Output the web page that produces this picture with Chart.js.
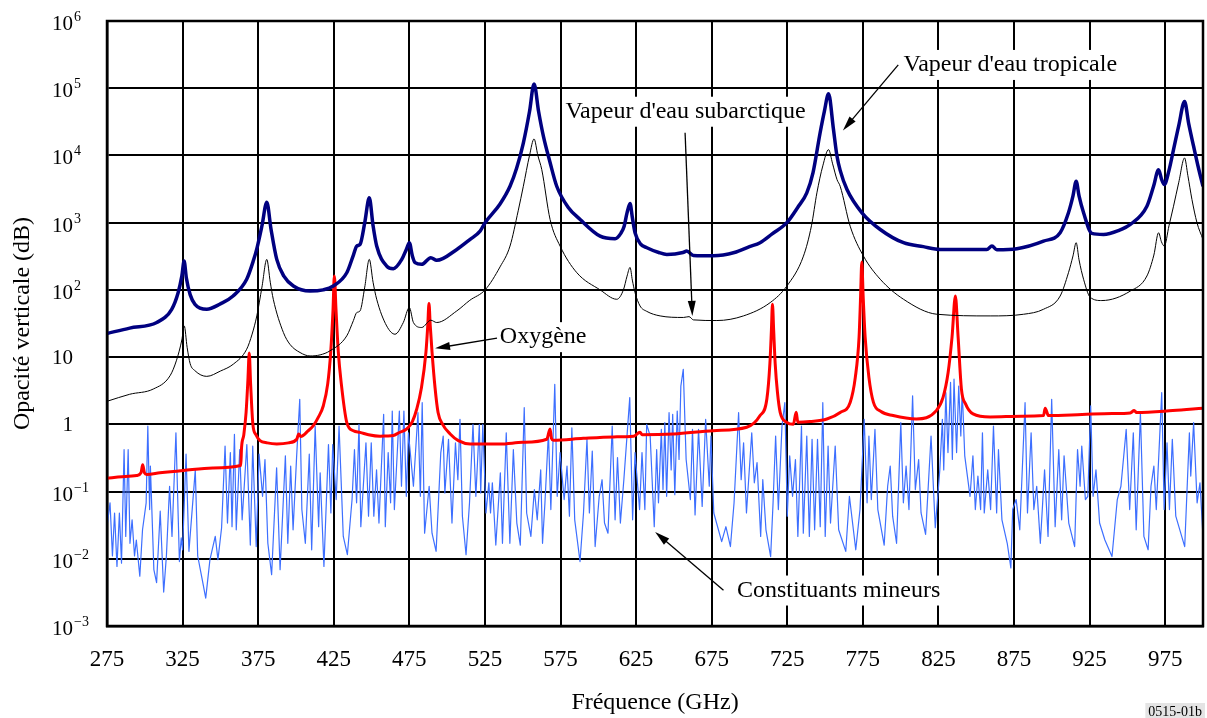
<!DOCTYPE html>
<html>
<head>
<meta charset="utf-8">
<script src="https://cdn.jsdelivr.net/npm/chart.js@4.4.0/dist/chart.umd.min.js"></script>
<style>
  html, body { margin: 0; padding: 0; background: #fff; }
  #wrap { width: 1207px; height: 718px; }
</style>
</head>
<body>
<div id="wrap"><canvas id="opacity" width="1207" height="718"></canvas></div>
<script>
// Axis ticks
const xTicks = [275, 325, 375, 425, 475, 525, 575, 625, 675, 725, 775, 825, 875, 925, 975];
const yTickValues = [1e6, 1e5, 1e4, 1e3, 1e2, 10, 1, 0.1, 0.01, 0.001];
const yTickLabels = [['10', '6'], ['10', '5'], ['10', '4'], ['10', '3'], ['10', '2'],
  ['10', ''], ['1', ''], ['10', '−1'], ['10', '−2'], ['10', '−3']];

// Series: [frequency GHz, vertical opacity dB]
const tropical = [
  [275, 22.5], [290, 27], [307.9, 32.7], [317.8, 51.5], [322, 90], [324.5, 160], [326, 268],
  [327.5, 150], [330, 85], [333.2, 61], [341, 51.5], [350, 62], [358.4, 81], [367.4, 144],
  [372, 280], [374, 400], [377.5, 900], [380.7, 2014], [383.5, 800], [387.3, 284], [392, 160],
  [398.3, 114], [409.3, 96], [418, 100], [424.7, 114], [433.6, 180], [438, 330], [440.2, 449],
  [442.4, 475], [445.5, 1000], [448.5, 2339], [451, 900], [453.4, 449], [460, 226], [464.4, 207],
  [470, 284], [473, 400], [475, 503], [477, 320], [478.8, 254], [483.2, 240], [489.2, 301],
  [493.1, 275], [506.4, 400], [515, 560], [521.8, 748], [525.1, 1000], [535, 1900], [541.6, 3480],
  [546, 6500], [550.4, 15300], [554.5, 45000], [557.5, 116000], [560.5, 45000], [563.7, 19200],
  [568, 8000], [572.5, 3480], [580, 1700], [588, 1115], [601.2, 630], [611.1, 577], [615, 700],
  [617.1, 887], [619, 1400], [621, 1928], [622.5, 1200], [624.3, 708], [628, 480], [632.1, 424],
  [640, 360], [645.3, 337], [656, 360], [658.5, 378], [662.9, 326], [676.2, 322], [690, 360],
  [700, 440], [707, 503], [715, 680], [724.7, 1000], [732, 1700], [737.9, 2776], [742, 5500],
  [746.7, 21600], [749.5, 45000], [752.3, 82600], [755.5, 25000], [757.9, 9700], [760, 6000],
  [764.5, 3110], [774.4, 1402], [786.5, 792], [801.9, 503], [815, 440], [826.2, 400], [857, 400],
  [860.4, 449], [863.6, 396], [876.9, 410], [894.5, 532], [905.5, 708], [911, 1402], [914, 2500],
  [916.1, 4130], [918, 2500], [921, 1402], [926.5, 692], [934.2, 668], [944, 760], [951.9, 940],
  [962.9, 1757], [967.3, 3480], [970.6, 6150], [972.5, 4500], [974.4, 3690], [977.5, 6000],
  [980.5, 12200], [984, 28000], [987.8, 63500], [990.5, 30000], [993.8, 13600], [997, 6500],
  [1000, 3480]
];

const subarctic = [
  [275, 2.2], [290, 2.8], [305.6, 3.35], [316.7, 5.28], [321, 9], [324.5, 18], [326.1, 29.1],
  [328, 14], [330, 8], [333.2, 6.27], [341, 5.17], [350, 6.2], [358.6, 7.87], [367.4, 13.1],
  [371, 22], [374.1, 41], [377.5, 110], [380.7, 284], [383, 130], [385, 72.5], [391.7, 23.2],
  [396, 15.5], [402.7, 11.7], [409.3, 10.4], [416, 10.8], [422.5, 12.4], [433.6, 20.7], [438, 35],
  [440.2, 46], [442.4, 48.7], [445.5, 110], [448.5, 284], [451, 130], [453.4, 72.5], [460, 29.1],
  [465.5, 21.9], [471, 32.7], [475, 54.6], [477.7, 32.7], [483.2, 27.6], [489.2, 35.4],
  [493.1, 32.7], [506.4, 48.7], [515, 70], [525.1, 100], [535, 220], [541.6, 449], [547, 1500],
  [550.4, 3480], [554.5, 10000], [557.5, 17600], [560, 10000], [562.6, 6150], [568.1, 1115],
  [574.7, 449], [585.8, 180], [601.2, 100], [612.2, 72.5], [616.6, 100], [619, 160], [621, 216],
  [622.5, 140], [624.3, 91], [627.6, 57.7], [632, 48], [640.9, 41], [656.3, 38.9], [660, 40],
  [662.9, 35.8], [678.4, 35], [696, 41], [713.7, 64.7], [724.7, 114], [735.7, 318], [741, 900],
  [744.6, 2776], [748.5, 7000], [752.3, 12200], [755, 7500], [757.9, 4375], [760, 3480],
  [766.6, 887], [775.4, 318], [786.5, 144], [801.9, 72.5], [824, 43.4], [859.2, 41],
  [881.3, 43.4], [894.5, 51.5], [905.5, 81], [911, 180], [914, 320], [916.1, 503], [918, 280],
  [921, 144], [925.4, 77.6], [933.1, 69.4], [951.9, 96], [962.9, 161], [967.5, 330], [970.6, 708],
  [972.5, 520], [974.4, 449], [977.5, 900], [980.5, 1757], [984, 4000], [987.8, 9180], [990, 5000],
  [992.7, 2208], [996, 1000], [1000, 563]
];

const oxygen = [
  [275, 0.158], [285, 0.166], [294.6, 0.173], [297.5, 0.19], [298.6, 0.25], [299.8, 0.19],
  [301.3, 0.18], [310, 0.19], [325.5, 0.206], [345, 0.225], [363.5, 0.244], [364, 0.45],
  [365.5, 0.7], [367, 1.5], [368.2, 4.5], [369.1, 11.5], [370, 4], [371.5, 1], [373.5, 0.7],
  [376.2, 0.573], [381, 0.53], [387.3, 0.512], [395, 0.53], [400.5, 0.6], [401.8, 0.72],
  [403.2, 0.66], [408, 0.8], [411.5, 0.957], [415, 1.3], [418.1, 1.89], [421, 4], [423, 12],
  [424.5, 50], [425.4, 161], [426.5, 50], [428, 12], [430, 4], [433.6, 1.07], [438, 0.8],
  [442.4, 0.76], [448, 0.7], [455.6, 0.665], [460, 0.67], [464.4, 0.68], [468, 0.75],
  [473.3, 0.855], [477, 1.1], [479.9, 1.69], [483, 3.5], [486, 12], [487.2, 30], [488, 62.6],
  [488.8, 30], [490, 12], [492, 3.5], [494, 1.5], [497, 1], [502, 0.72], [507.4, 0.573],
  [515.2, 0.512], [535, 0.51], [550, 0.54], [565.9, 0.6], [568.1, 0.855], [569, 0.62],
  [570.3, 0.58], [590, 0.62], [610, 0.65], [623.2, 0.665], [627.6, 0.76], [629, 0.7], [650, 0.72],
  [676.1, 0.805], [698.2, 0.904], [707, 1.35], [711.5, 2.38], [713.5, 8], [714.5, 25],
  [715.2, 61], [716, 25], [717, 8], [718.5, 3], [720.3, 1.51], [724.7, 1.07], [729, 1],
  [730.9, 1.51], [732, 1.07], [740, 1.1], [751.2, 1.2], [760, 1.5], [766.6, 2.12], [770, 5],
  [772.5, 20], [773.5, 80], [774.3, 259], [775.2, 80], [776.5, 20], [779, 5], [782, 2.12],
  [787, 1.55], [795, 1.35], [810.4, 1.2], [823.6, 1.6], [828, 2.5], [831.4, 5.9], [834, 20],
  [836.2, 81], [838, 20], [840.2, 3.35], [843, 2], [847.9, 1.43], [859.2, 1.29], [880, 1.32],
  [894.5, 1.35], [895.6, 1.73], [897.8, 1.35], [920, 1.4], [940, 1.45], [951.9, 1.48],
  [954.5, 1.6], [956, 1.5], [980, 1.6], [1000, 1.73]
];

const minor = [
  [275, 0.03], [277, 0.068], [278.6, 0.011], [280, 0.048], [281.6, 0.0077], [283.2, 0.048],
  [284.6, 0.0086], [286.3, 0.42], [287.4, 0.0215], [289, 0.42], [290.2, 0.017], [291.6, 0.038],
  [293.2, 0.011], [294.4, 0.019], [296.7, 0.0055], [298.5, 0.027], [300.9, 0.068], [302, 0.94],
  [303.2, 0.054], [303.7, 0.24], [306, 0.0069], [307.8, 0.0044], [310.2, 0.051], [312.5, 0.0032],
  [314.3, 0.011], [316.4, 0.12], [318, 0.0215], [320.6, 0.75], [322.9, 0.0091], [324.1, 0.0204],
  [325, 0.0136], [327.3, 0.36], [329.2, 0.0129], [333.4, 0.21], [335, 0.011], [338, 0.0049],
  [340.3, 0.0026], [343.1, 0.0097], [346.6, 0.0215], [348.4, 0.0097], [350.8, 0.029],
  [353.1, 0.475], [354.7, 0.034], [356.6, 0.38], [357.7, 0.03], [359.3, 0.71], [360.5, 0.027],
  [362.8, 0.42], [364.4, 0.038], [367.5, 0.5], [369.8, 0.016], [371.4, 0.475], [373.7, 0.0152],
  [375.6, 0.36], [377.9, 0.085], [379.5, 0.3], [381.4, 0.017], [383.9, 0.0058], [387.2, 0.225],
  [389.5, 0.0069], [393, 0.34], [394.6, 0.017], [396.5, 0.24], [398.1, 0.027], [400.4, 0.32],
  [402.5, 2.36], [403.9, 0.054], [406.2, 0.017], [408.8, 0.36], [410.4, 0.0136], [412.7, 0.94],
  [415, 0.03], [416, 0.19], [418.5, 0.0077], [421.5, 0.5], [423.1, 0.048], [424.3, 0.5],
  [426.6, 0.076], [428.5, 0.94], [431.3, 0.0215], [434, 0.0115], [437.1, 0.076], [438.7, 0.42],
  [440.1, 0.068], [441.7, 1.0], [442.9, 0.03], [446.3, 0.53], [448, 0.043], [449.8, 0.53],
  [451.5, 0.043], [453.3, 0.21], [454.9, 0.034], [458, 1.41], [459.1, 0.03], [461, 0.38],
  [462.6, 0.068], [463.7, 1.58], [465.1, 0.054], [468.4, 1.58], [469.8, 0.12], [471.4, 1.58],
  [473, 0.085], [474.4, 0.75], [477.7, 0.12], [480.7, 1.49], [482.3, 0.085], [483.5, 2.1],
  [485.1, 0.024], [488.1, 0.12], [490, 0.024], [492.7, 0.0129], [495.8, 0.38], [497.4, 0.67],
  [498.5, 0.095], [500.9, 0.6], [503.2, 0.034], [505.5, 0.53], [507.1, 0.15], [508.5, 1.19],
  [510.1, 0.043], [512.5, 0.0115], [514.8, 0.068], [517.1, 1.0], [519, 0.085], [521.3, 1.0],
  [522.2, 0.095], [523.6, 1.0], [525.7, 0.048], [527.6, 0.135], [528.7, 0.048], [529.9, 0.135],
  [532.2, 0.016], [535.2, 0.19], [536.6, 0.017], [539.1, 0.75], [541.5, 0.017], [543.8, 0.42],
  [546.1, 0.034], [548.4, 0.016], [551, 1.77], [552.6, 0.048], [555.4, 0.0215], [557.7, 0.107],
  [559.6, 0.038], [561.9, 0.21], [563.1, 0.017], [564.7, 0.068], [567, 0.75], [568.6, 0.054],
  [571.2, 3.95], [572.8, 0.085], [574.7, 0.38], [577.4, 0.076], [579.3, 0.24], [580.9, 0.043],
  [582.5, 0.89], [584.4, 0.038], [587.9, 0.0091], [590.2, 0.048], [592.5, 0.6], [594.1, 0.048],
  [596, 0.4], [597.9, 0.0152], [600.6, 0.085], [602.5, 0.15], [604.1, 0.034], [606.4, 0.024],
  [609.2, 0.94], [611.1, 0.038], [612.7, 0.32], [614.6, 0.034], [616.9, 0.15], [620.8, 2.5],
  [622.7, 0.038], [624.3, 0.38], [627.3, 0.054], [628.9, 0.38], [630.8, 0.054], [632, 1.0],
  [634.3, 0.67], [637, 0.03], [638.6, 0.42], [639.8, 0.068], [641.7, 0.84], [642.8, 0.107],
  [644, 1.06], [645.2, 0.085], [646.8, 1.49], [648.2, 0.21], [649.2, 1.41], [650.6, 0.09],
  [652.2, 1.58], [653.4, 0.3], [654.6, 3.7], [656.2, 6.6], [658.1, 0.3], [660.9, 0.076],
  [662.3, 0.84], [664, 0.045], [666.3, 0.84], [668.7, 0.06], [671, 1.19], [673.4, 0.12],
  [674.5, 0.67], [676.4, 0.048], [681.6, 0.018], [684.4, 0.03], [687.4, 0.0152], [689.8, 0.068],
  [692.8, 1.49], [694.5, 0.15], [696.1, 0.53], [698, 0.048], [701.5, 0.75], [703.2, 0.135],
  [705, 0.27], [707.4, 0.0215], [708.8, 0.15], [710.9, 0.027], [714, 0.0108], [715.6, 0.068],
  [717.3, 0.67], [719.1, 0.054], [721.5, 0.94], [723.4, 2.1], [725, 0.043], [726.6, 0.34],
  [728.5, 0.085], [730.4, 0.3], [732, 0.0215], [734.4, 0.94], [735.6, 0.024], [737.9, 0.67],
  [739.6, 0.0215], [741.4, 0.6], [743.1, 0.027], [745, 0.6], [746.8, 0.03], [748.5, 2.1],
  [750.1, 0.0215], [752, 0.475], [753.6, 0.034], [756.7, 0.475], [759, 0.027], [763.7, 0.0129],
  [766.1, 0.085], [770.3, 0.0136], [773.1, 0.054], [775.9, 1.19], [777.8, 0.068], [779, 0.67],
  [780.6, 0.076], [783, 0.84], [784.9, 0.054], [789.1, 0.016], [791.4, 0.12], [793.1, 0.24],
  [794.7, 0.043], [797.3, 0.017], [800.1, 1.06], [801.8, 0.068], [803.6, 0.24], [805.5, 0.054],
  [807.9, 2.65], [809.7, 0.107], [811.9, 0.3], [813.5, 0.048], [816.5, 0.023], [820.1, 0.67],
  [822.9, 0.029], [825.9, 0.21], [827.6, 1.19], [828.5, 0.21], [829.9, 2.96], [831.3, 0.38],
  [833, 4.2], [834.2, 0.3], [835.3, 4.7], [837, 0.38], [838.4, 3.7], [839.8, 0.67], [840.7, 3.3],
  [842.4, 0.34], [845.9, 0.085], [847.8, 0.34], [849.4, 0.054], [851.1, 0.17], [852.9, 0.054],
  [854.1, 0.75], [855.3, 0.048], [857.6, 0.21], [859.5, 0.054], [861.4, 0.94], [863.5, 0.048],
  [864.7, 0.42], [867, 0.038], [870.5, 0.017], [872.9, 0.0073], [874.1, 0.054], [876.4, 0.076],
  [878.8, 0.027], [882.3, 2.1], [883.9, 0.048], [886.3, 0.75], [888.1, 0.054], [890, 0.12],
  [892.4, 0.017], [895.2, 0.21], [897.5, 0.0215], [899.9, 2.36], [902.2, 0.03], [904.6, 0.42],
  [906.5, 0.038], [908.1, 0.34], [911.2, 0.034], [915.1, 0.0152], [917, 0.42], [918.7, 0.12],
  [919.8, 0.475], [922.2, 0.076], [923.8, 0.085], [925.7, 1.88], [927.3, 0.085], [929.2, 0.21],
  [931.6, 0.034], [935.1, 0.019], [939.8, 0.0108], [943.3, 0.076], [945.7, 0.12], [949.2, 0.84],
  [951.5, 0.054], [953.9, 0.75], [955.8, 0.027], [958.6, 1.49], [960.9, 0.0215], [963.7, 0.0136],
  [965.6, 0.12], [967.5, 0.24], [969.1, 0.054], [972.7, 2.96], [974.3, 0.054], [976.2, 0.53],
  [977.8, 0.054], [979.7, 0.6], [982, 0.043], [987.9, 0.0152], [991, 0.75], [991.9, 0.17],
  [993.8, 1.06], [996.1, 0.068], [998, 0.135], [1000, 0.0215]
];

// Curve labels: text centre, arrow tail and arrow tip, in data coordinates
const notes = [
  { text: "Vapeur d'eau tropicale", at: [872.5, 222000], tail: [798.4, 222000], tip: [761.8, 23500] },
  { text: "Vapeur d'eau subarctique", at: [657.7, 44700], tail: [657.4, 21800], tip: [662.2, 41] },
  { text: 'Oxygène', at: [563.5, 19.8], tail: [533, 19.1], tip: [492, 13.5] },
  { text: 'Constituants mineurs', at: [759, 0.00337], tail: [682.8, 0.00341], tip: [637.6, 0.0251] }
];

const serif = '"Liberation Serif", "Times New Roman", serif';

// Turn [f, v] pairs into chart points
function toPoints(pairs) {
  return pairs.map(p => ({ x: p[0], y: p[1] }));
}

// Frame, superscript tick labels, annotations
const decorations = {
  id: 'decorations',
  afterDraw(chart) {
    const { ctx, chartArea: area, scales: { x, y } } = chart;
    ctx.save();

    // top and right edges of the plot box
    ctx.strokeStyle = '#000';
    ctx.lineWidth = 2.5;
    ctx.strokeRect(area.left, area.top, area.right - area.left, area.bottom - area.top);

    // y tick labels like 10^6
    ctx.fillStyle = '#000';
    ctx.textBaseline = 'alphabetic';
    yTickValues.forEach((v, i) => {
      const py = y.getPixelForValue(v);
      const [base, exp] = yTickLabels[i];
      const shift = exp ? 9 : 7;
      ctx.font = '21px ' + serif;
      ctx.textAlign = 'right';
      ctx.fillText(base, 73, py + shift);
      if (exp) {
        ctx.font = '14px ' + serif;
        ctx.textAlign = 'left';
        ctx.fillText(exp, 74, py + shift - 9);
      }
    });

    // curve labels with arrows
    ctx.font = '24px ' + serif;
    notes.forEach(n => {
      const cx = x.getPixelForValue(n.at[0]);
      const cy = y.getPixelForValue(n.at[1]);
      const w = ctx.measureText(n.text).width;
      ctx.fillStyle = '#fff';
      ctx.fillRect(cx - w / 2 - 3, cy - 15, w + 6, 30);
      ctx.fillStyle = '#000';
      ctx.textAlign = 'center';
      ctx.textBaseline = 'middle';
      ctx.fillText(n.text, cx, cy);

      const x0 = x.getPixelForValue(n.tail[0]);
      const y0 = y.getPixelForValue(n.tail[1]);
      const x1 = x.getPixelForValue(n.tip[0]);
      const y1 = y.getPixelForValue(n.tip[1]);
      const ang = Math.atan2(y1 - y0, x1 - x0);
      ctx.strokeStyle = '#000';
      ctx.lineWidth = 1.3;
      ctx.beginPath();
      ctx.moveTo(x0, y0);
      ctx.lineTo(x1 - 10 * Math.cos(ang), y1 - 10 * Math.sin(ang));
      ctx.stroke();
      ctx.beginPath();
      ctx.moveTo(x1, y1);
      ctx.lineTo(x1 - 15 * Math.cos(ang) + 4 * Math.sin(ang), y1 - 15 * Math.sin(ang) - 4 * Math.cos(ang));
      ctx.lineTo(x1 - 15 * Math.cos(ang) - 4 * Math.sin(ang), y1 - 15 * Math.sin(ang) + 4 * Math.cos(ang));
      ctx.closePath();
      ctx.fill();
    });

    // figure reference tag
    ctx.font = '14px ' + serif;
    const tag = '0515-01b';
    const tw = ctx.measureText(tag).width;
    ctx.fillStyle = '#e4e4e4';
    ctx.fillRect(1205 - tw - 6, 703, tw + 6, 15);
    ctx.fillStyle = '#000';
    ctx.textAlign = 'left';
    ctx.textBaseline = 'alphabetic';
    ctx.fillText(tag, 1205 - tw - 3, 716);
    ctx.restore();
  }
};

const ctx = document.getElementById('opacity').getContext('2d');
new Chart(ctx, {
  type: 'line',
  data: {
    datasets: [
      { label: "Vapeur d'eau tropicale", data: toPoints(tropical), borderColor: '#000080', borderWidth: 3.5, cubicInterpolationMode: 'monotone' },
      { label: "Vapeur d'eau subarctique", data: toPoints(subarctic), borderColor: '#000', borderWidth: 1, cubicInterpolationMode: 'monotone' },
      { label: 'Oxygène', data: toPoints(oxygen), borderColor: '#ff0000', borderWidth: 3, cubicInterpolationMode: 'monotone' },
      { label: 'Constituants mineurs', data: toPoints(minor), borderColor: '#3d6fff', borderWidth: 1.2 }
    ]
  },
  options: {
    responsive: false,
    animation: false,
    elements: { point: { radius: 0 }, line: { tension: 0, borderJoinStyle: 'round' } },
    layout: { padding: { top: 21, right: 4, left: 0, bottom: 0 } },
    plugins: { legend: { display: false }, tooltip: { enabled: false } },
    scales: {
      x: {
        type: 'linear',
        min: 275,
        max: 1000,
        afterBuildTicks: scale => { scale.ticks = xTicks.map(v => ({ value: v })); },
        afterFit: scale => { scale.height = 92; },
        grid: { color: '#000', lineWidth: 2, drawTicks: false },
        border: { color: '#000', width: 2.5 },
        ticks: {
          color: '#000',
          font: { family: serif, size: 23 },
          padding: 20,
          maxRotation: 0,
          autoSkip: false,
          callback: v => String(v)
        },
        title: {
          display: true,
          text: 'Fréquence (GHz)',
          color: '#000',
          font: { family: serif, size: 24 },
          padding: { top: 0, bottom: 1 }
        }
      },
      y: {
        type: 'logarithmic',
        min: 0.001,
        max: 1e6,
        afterBuildTicks: scale => { scale.ticks = yTickValues.map(v => ({ value: v })); },
        afterFit: scale => { scale.width = 107; },
        grid: { color: '#000', lineWidth: 2, drawTicks: false },
        border: { color: '#000', width: 2.5 },
        ticks: { display: false },
        title: {
          display: true,
          text: 'Opacité verticale (dB)',
          color: '#000',
          font: { family: serif, size: 24 },
          padding: { top: 8, bottom: 0 }
        }
      }
    }
  },
  plugins: [decorations]
});
</script>
</body>
</html>
